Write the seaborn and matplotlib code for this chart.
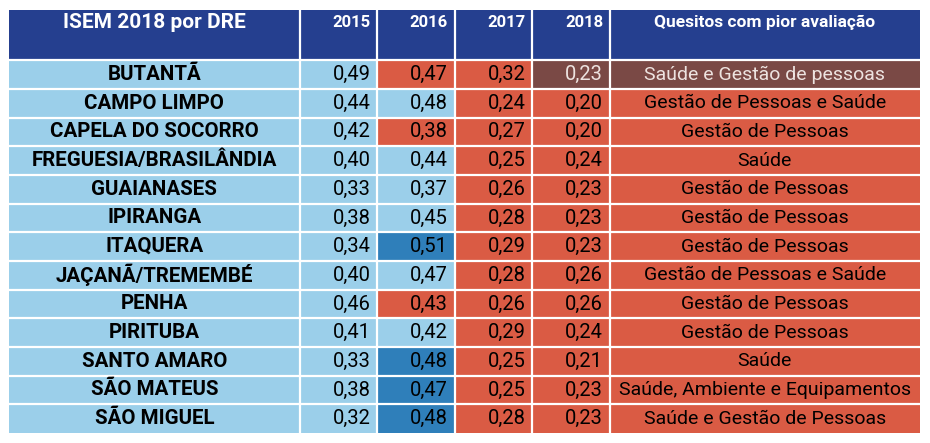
import numpy as np
import matplotlib
import matplotlib.pyplot as plt
import seaborn as sns
from matplotlib.colors import ListedColormap
matplotlib.use('Agg')

TITLE = 'ISEM 2018 por DRE'
YEARS = ['2015', '2016', '2017', '2018']
LAST_COL = 'Quesitos com pior avaliação'
DRE = ['BUTANTÃ', 'CAMPO LIMPO', 'CAPELA DO SOCORRO', 'FREGUESIA/BRASILÂNDIA',
       'GUAIANASES', 'IPIRANGA', 'ITAQUERA', 'JAÇANÃ/TREMEMBÉ', 'PENHA',
       'PIRITUBA', 'SANTO AMARO', 'SÃO MATEUS', 'SÃO MIGUEL']
V2015 = [0.49, 0.44, 0.42, 0.40, 0.33, 0.38, 0.34, 0.40, 0.46, 0.41, 0.33, 0.38, 0.32]
V2016 = [0.47, 0.48, 0.38, 0.44, 0.37, 0.45, 0.51, 0.47, 0.43, 0.42, 0.48, 0.47, 0.48]
V2017 = [0.32, 0.24, 0.27, 0.25, 0.26, 0.28, 0.29, 0.28, 0.26, 0.29, 0.25, 0.25, 0.28]
V2018 = [0.23, 0.20, 0.20, 0.24, 0.23, 0.23, 0.23, 0.26, 0.26, 0.24, 0.21, 0.23, 0.23]
QUESITOS = ['Saúde e Gestão de pessoas', 'Gestão de Pessoas e Saúde', 'Gestão de Pessoas',
            'Saúde', 'Gestão de Pessoas', 'Gestão de Pessoas', 'Gestão de Pessoas',
            'Gestão de Pessoas e Saúde', 'Gestão de Pessoas', 'Gestão de Pessoas',
            'Saúde', 'Saúde, Ambiente e Equipamentos', 'Saúde e Gestão de Pessoas']

# cell colour classes: 0 header, 1 light blue, 2 red, 3 brown, 4 blue
CLS_2016 = [2, 1, 2, 1, 1, 1, 4, 1, 2, 1, 4, 4, 4]
CLS_2018 = [3] + [2] * 12
COLORS = ['#253F8F', '#9BCFEA', '#DA5B44', '#7A4945', '#2F7FBA']

# relative widths / heights in grid units
COL_W = [15, 4, 4, 4, 4, 16]
HEAD_H, ROW_H = 7, 4

n = len(DRE)
cls = np.zeros((n + 1, 6), dtype=int)
cls[1:, 0] = 1
cls[1:, 1] = 1
cls[1:, 2] = CLS_2016
cls[1:, 3] = 2
cls[1:, 4] = CLS_2018
cls[1:, 5] = CLS_2018
grid = np.repeat(cls, [HEAD_H] + [ROW_H] * n, axis=0)
grid = np.repeat(grid, COL_W, axis=1)

fig = plt.figure(figsize=(9.3, 4.43), dpi=100)
ax = fig.add_axes([9 / 930, 1 - 433 / 443, 911 / 930, 423 / 443])
sns.heatmap(grid, cmap=ListedColormap(COLORS), vmin=-0.5, vmax=4.5, cbar=False,
            xticklabels=False, yticklabels=False, ax=ax)

x_edges = np.concatenate([[0], np.cumsum(COL_W)])
y_edges = np.concatenate([[0], HEAD_H + ROW_H * np.arange(n + 1)])
for x in x_edges[1:-1]:
    ax.axvline(x, color='white', lw=1.6)
for y in y_edges[1:-1]:
    ax.axhline(y, color='white', lw=1.6)

fam = ['Roboto', 'DejaVu Sans']
head_y = 1.8
ax.text((x_edges[0] + x_edges[1]) / 2, head_y, TITLE, color='white', fontsize=15,
        fontweight='bold', ha='center', va='center', family=fam)
for j, yr in enumerate(YEARS):
    ax.text(x_edges[j + 2] - 0.35, head_y, yr, color='white', fontsize=12,
            fontweight='bold', ha='right', va='center', family=fam)
ax.text((x_edges[5] + x_edges[6]) / 2, head_y, LAST_COL, color='white', fontsize=12.5,
        fontweight='bold', ha='center', va='center', family=fam)

values = [V2015, V2016, V2017, V2018]
for i in range(n):
    yc = (y_edges[i + 1] + y_edges[i + 2]) / 2
    ax.text((x_edges[0] + x_edges[1]) / 2, yc, DRE[i], color='black', fontsize=14.8,
            fontweight='bold', ha='center', va='center', family=fam)
    for j, vals in enumerate(values):
        txt = f'{vals[i]:.2f}'.replace('.', ',')
        c = '#EDE3E0' if cls[i + 1, j + 1] == 3 else 'black'
        ax.text(x_edges[j + 2] - 0.35, yc, txt, color=c, fontsize=14.5,
                ha='right', va='center', family=fam)
    c = '#EDE3E0' if CLS_2018[i] == 3 else 'black'
    ax.text((x_edges[5] + x_edges[6]) / 2, yc, QUESITOS[i], color=c, fontsize=14,
            ha='center', va='center', family=fam)

fig.savefig('out.png', dpi=100)
